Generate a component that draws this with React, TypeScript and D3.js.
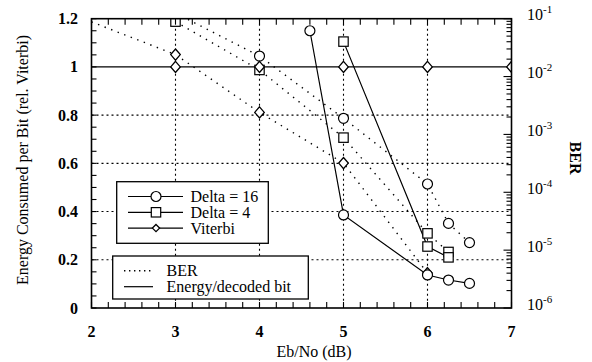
import React from "react";
import * as d3 from "d3";

// Eb/No (dB) and BER for each decoder (dotted curves, right axis)
const berEbNo16 = [3, 4, 5, 6, 6.25, 6.5];
const ber16 = [0.125, 2.26e-2, 1.9e-3, 1.39e-4, 2.9e-5, 1.35e-5];
const berEbNo4 = [3, 4, 5, 6, 6.25];
const ber4 = [8.9e-2, 1.3e-2, 8.8e-4, 1.95e-5, 9.3e-6];
const berEbNoViterbi = [2, 3, 4, 5, 6];
const berViterbi = [8.8e-2, 2.4e-2, 2.4e-3, 3.2e-4, 4.0e-6];

// energy per decoded bit, relative to Viterbi (solid curves, left axis)
const energyEbNo16 = [4.6, 5, 6, 6.25, 6.5];
const energy16 = [1.15, 0.386, 0.137, 0.116, 0.102];
const energyEbNo4 = [5, 6, 6.25];
const energy4 = [1.105, 0.255, 0.21];
const energyEbNoViterbi = [2, 3, 4, 5, 6, 7];
const energyViterbi = [1, 1, 1, 1, 1, 1];

const xTicks = [2, 3, 4, 5, 6, 7];
const yTicks = [0, 0.2, 0.4, 0.6, 0.8, 1, 1.2];
const berTicks = [1e-1, 1e-2, 1e-3, 1e-4, 1e-5, 1e-6];
const seriesNames = ["Delta = 16", "Delta = 4", "Viterbi"];
const styleNames = ["BER", "Energy/decoded bit"];

const W = 592;
const H = 362;
const left = 91.5;
const right = 511.5;
const top = 18.7;
const bottom = 308;

const serif = { fontFamily: "Liberation Serif" };

type Pt = { x: number; y: number };
const zip = (xs: number[], ys: number[]): Pt[] => xs.map((x, i) => ({ x, y: ys[i] }));

const Marker = ({ kind, cx, cy, small }: { kind: string; cx: number; cy: number; small?: boolean }) => {
  if (kind === "circle") return <circle cx={cx} cy={cy} r={5} fill="#fff" stroke="#000" strokeWidth={1.2} />;
  if (kind === "square") return <rect x={cx - 4.7} y={cy - 4.7} width={9.4} height={9.4} fill="#fff" stroke="#000" strokeWidth={1.2} />;
  const a = small ? 3.6 : 4.8;
  const b = small ? 3.6 : 5.6;
  return (
    <path
      d={`M${cx},${cy - b}L${cx + a},${cy}L${cx},${cy + b}L${cx - a},${cy}Z`}
      fill="#fff"
      stroke="#000"
      strokeWidth={1.3}
    />
  );
};

export default function App() {
  const x = d3.scaleLinear().domain([2, 7]).range([left, right]);
  const y = d3.scaleLinear().domain([0, 1.2]).range([bottom, top]);
  const yBer = d3.scaleLog().domain([1e-6, 1e-1]).range([bottom, top]);

  const energyLine = d3.line<Pt>().x((d) => x(d.x)).y((d) => y(d.y));
  const berLine = d3.line<Pt>().x((d) => x(d.x)).y((d) => yBer(d.y));

  const series = [
    { kind: "circle", ber: zip(berEbNo16, ber16), energy: zip(energyEbNo16, energy16) },
    { kind: "square", ber: zip(berEbNo4, ber4), energy: zip(energyEbNo4, energy4) },
    { kind: "diamond", ber: zip(berEbNoViterbi, berViterbi), energy: zip(energyEbNoViterbi, energyViterbi) },
  ];

  const minorX = d3.range(2, 7.0001, 0.2);
  const minorY = d3.range(0, 1.2001, 0.05);
  const logTicks: number[] = [];
  for (let e = -6; e < -1; e++) for (let k = 1; k < 10; k++) logTicks.push(k * Math.pow(10, e));
  logTicks.push(1e-1);

  return (
    <div style={{ position: "absolute", left: 0, top: 0 }}>
      <svg width={W} height={H} style={{ display: "block", background: "#fff" }}>
        <defs>
          <clipPath id="plot">
            <rect x={left} y={top} width={right - left} height={bottom - top} />
          </clipPath>
        </defs>

        {/* grid */}
        <g stroke="#000" strokeWidth={1.1} strokeDasharray="2,3">
          {xTicks.slice(1, -1).map((t) => (
            <line key={"gx" + t} x1={x(t)} x2={x(t)} y1={top} y2={bottom} />
          ))}
          {yTicks.slice(1, -2).map((t) => (
            <line key={"gy" + t} x1={left} x2={right} y1={y(t)} y2={y(t)} />
          ))}
        </g>

        <g clipPath="url(#plot)">
          {series.map((s) => (
            <path key={"b" + s.kind} d={berLine(s.ber) || ""} fill="none" stroke="#000" strokeWidth={1.4} strokeDasharray="1.4,5.6" />
          ))}
          {series.map((s) => (
            <path key={"e" + s.kind} d={energyLine(s.energy) || ""} fill="none" stroke="#000" strokeWidth={1.2} />
          ))}
          {series.map((s) =>
            s.ber
              .filter((d) => d.x > 2)
              .map((d, i) => <Marker key={"mb" + s.kind + i} kind={s.kind} cx={x(d.x)} cy={yBer(d.y)} />)
          )}
          {series.map((s) =>
            s.energy
              .filter((d) => d.x > 2)
              .map((d, i) => <Marker key={"me" + s.kind + i} kind={s.kind} cx={x(d.x)} cy={y(d.y)} />)
          )}
        </g>

        {/* ticks */}
        <g stroke="#000" strokeWidth={1.1}>
          {minorX.map((t, i) => (
            <g key={"tx" + i}>
              <line x1={x(t)} x2={x(t)} y1={bottom} y2={bottom - 6} />
              <line x1={x(t)} x2={x(t)} y1={top} y2={top + 6} />
            </g>
          ))}
          {minorY.map((t, i) => (
            <line key={"ty" + i} x1={left} x2={left + 5} y1={y(t)} y2={y(t)} />
          ))}
          {logTicks.map((t, i) => {
            const major = Math.abs(Math.log10(t) - Math.round(Math.log10(t))) < 1e-6;
            return <line key={"tl" + i} x1={right} x2={right - (major ? 8 : 5)} y1={yBer(t)} y2={yBer(t)} />;
          })}
        </g>

        <rect x={left} y={top} width={right - left} height={bottom - top} fill="none" stroke="#000" strokeWidth={1.6} />

        {/* tick labels */}
        <g fontSize={16} fontWeight="bold" fill="#000">
          {yTicks.map((t) => (
            <text key={"ly" + t} x={78} y={y(t)} textAnchor="end" dominantBaseline="central" style={serif}>
              {d3.format("~g")(t)}
            </text>
          ))}
          {xTicks.map((t) => (
            <text key={"lx" + t} x={x(t)} y={337} textAnchor="middle" style={serif}>
              {t}
            </text>
          ))}
        </g>
        <g fontSize={16} fill="#000">
          {berTicks.map((t) => (
            <text key={"lb" + t} x={527} y={yBer(t) + 1.5} style={serif}>
              10
              <tspan fontSize={11} dy={-7}>
                {"-" + Math.round(-Math.log10(t))}
              </tspan>
            </text>
          ))}
        </g>

        {/* axis titles */}
        <text x={314} y={357} textAnchor="middle" fontSize={16} style={serif}>
          Eb/No (dB)
        </text>
        <text transform="translate(22,160) rotate(-90)" textAnchor="middle" dominantBaseline="central" fontSize={16} style={serif}>
          Energy Consumed per Bit (rel. Viterbi)
        </text>
        <text transform="translate(575,158) rotate(90)" textAnchor="middle" dominantBaseline="central" fontSize={16} fontWeight="bold" style={serif}>
          BER
        </text>

        {/* legend: markers */}
        <g>
          <rect x={116.7} y={181.7} width={151.6} height={61.6} fill="#fff" stroke="#000" strokeWidth={1.3} />
          {seriesNames.map((name, i) => {
            const cy = 196.5 + i * 15.8;
            return (
              <g key={name}>
                <line x1={128} x2={183} y1={cy} y2={cy} stroke="#000" strokeWidth={1.2} />
                <Marker kind={series[i].kind} cx={156} cy={cy} small={i === 2} />
                <text x={190.5} y={cy} dominantBaseline="central" fontSize={16} style={serif}>
                  {name}
                </text>
              </g>
            );
          })}
        </g>

        {/* legend: line styles */}
        <g>
          <rect x={112.7} y={256} width={195.6} height={43} fill="#fff" stroke="#000" strokeWidth={1.3} />
          {styleNames.map((name, i) => {
            const cy = 270.7 + i * 16;
            return (
              <g key={name}>
                <line
                  x1={124}
                  x2={153}
                  y1={cy}
                  y2={cy}
                  stroke="#000"
                  strokeWidth={i === 0 ? 1.4 : 1.2}
                  strokeDasharray={i === 0 ? "1.4,3.6" : undefined}
                />
                <text x={166.5} y={cy} dominantBaseline="central" fontSize={16} style={serif}>
                  {name}
                </text>
              </g>
            );
          })}
        </g>
      </svg>
    </div>
  );
}
